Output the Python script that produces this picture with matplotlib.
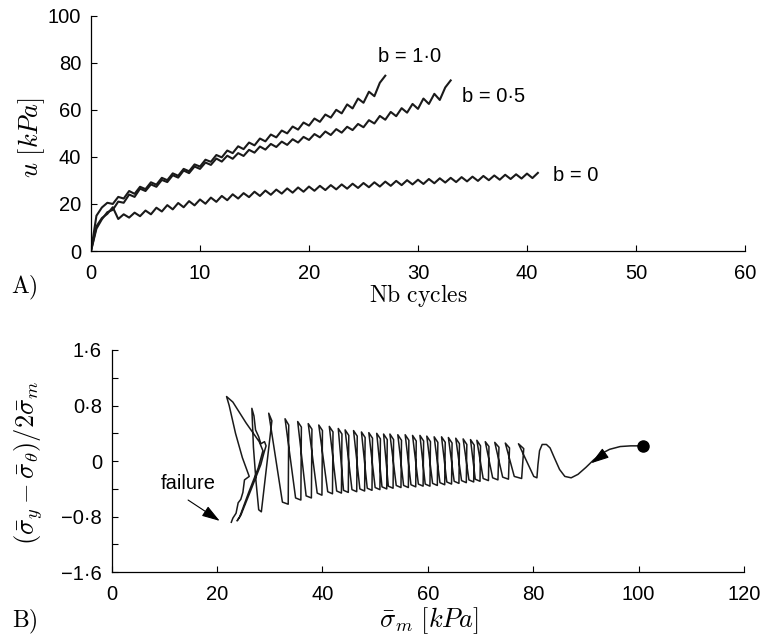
import matplotlib as mpl

mpl.use("Agg")

import matplotlib.pyplot as plt
import numpy as np

IMAGE_DPI = 100.0

# ---- panel A: pore pressure u [kPa] read at every half cycle ----
u_b0 = [
    0.0, 10.5, 14.0, 15.8, 18.6, 13.6, 15.6, 14.2, 16.3, 14.8,
    17.2, 15.6, 18.4, 16.8, 19.5, 17.7, 20.4, 18.6, 21.2, 19.4,
    21.9, 20.1, 22.7, 20.9, 23.4, 21.6, 24.1, 22.3, 24.6, 22.9,
    25.2, 23.4, 25.7, 23.9, 26.1, 24.4, 26.6, 24.8, 27.0, 25.2,
    27.4, 25.6, 27.7, 25.9, 28.0, 26.2, 28.3, 26.5, 28.6, 26.8,
    28.9, 27.1, 29.2, 27.4, 29.5, 27.7, 29.8, 28.0, 30.1, 28.3,
    30.3, 28.5, 30.6, 28.8, 30.9, 29.1, 31.1, 29.3, 31.4, 29.6,
    31.6, 29.8, 31.9, 30.1, 32.1, 30.3, 32.4, 30.6, 32.6, 30.8,
    32.9, 31.0, 33.2,
]
u_b05 = [
    0.0, 9.5, 13.5, 16.5, 17.5, 21.0, 20.5, 24.0, 23.0, 26.5,
    25.5, 28.3, 27.3, 30.2, 29.3, 32.2, 31.2, 34.2, 33.1, 35.9,
    34.9, 37.6, 36.6, 39.3, 38.0, 40.5, 39.2, 41.6, 40.4, 43.0,
    41.8, 44.4, 43.1, 45.5, 44.2, 46.5, 45.1, 47.5, 46.1, 48.5,
    47.2, 49.7, 48.3, 50.8, 49.3, 51.8, 50.3, 52.8, 51.4, 54.0,
    52.6, 55.6, 54.2, 57.4, 55.8, 59.1, 57.3, 60.7, 58.8, 62.5,
    60.4, 64.8, 62.5, 66.8, 64.2, 69.5, 72.5,
]
u_b10 = [
    0.0, 15.0, 18.5, 20.5, 20.0, 23.0, 22.3, 25.5, 24.3, 27.3,
    26.3, 29.2, 28.2, 31.1, 30.1, 33.0, 32.0, 34.9, 33.9, 36.8,
    35.9, 38.8, 37.9, 40.8, 39.8, 42.7, 41.6, 44.5, 43.3, 46.1,
    44.9, 47.8, 46.6, 49.5, 48.3, 51.2, 50.0, 52.9, 51.6, 54.6,
    53.3, 56.3, 54.9, 58.0, 56.7, 60.0, 58.5, 62.3, 60.6, 64.8,
    63.0, 67.7, 65.8, 71.5, 74.5,
]
curve_labels = ["b = 0", "b = 0·5", "b = 1·0"]
label_pos = [(42.4, 32.3), (34.0, 65.7), (26.3, 82.5)]

# ---- panel B: stress path (mean stress, stress ratio) ----
start_sig = [100.8, 98.5, 96.5, 94.5, 93.0, 91.5, 90.0, 88.5, 87.2, 86.0,
             85.0, 84.0, 83.2, 82.5, 81.7, 81.2, 80.9, 80.7, 80.1]
start_q = [0.22, 0.22, 0.21, 0.17, 0.11, 0.02, -0.09, -0.19, -0.24, -0.22,
           -0.12, 0.05, 0.19, 0.24, 0.24, 0.15, -0.05, -0.24, -0.22]

# one loop per cycle: top, shoulder, bottom, and the short hook left of the bottom
sig_top = [77.2, 74.7, 72.7, 70.9, 69.3, 68.1, 66.7, 65.3, 63.9, 62.6,
           61.2, 59.8, 58.5, 57.1, 55.7, 54.3, 52.8, 51.6, 50.3, 48.8,
           47.4, 45.9, 44.3, 43.0, 41.3, 39.3, 37.3, 35.3, 32.9, 29.8]
q_top = [0.25, 0.26, 0.27, 0.28, 0.30, 0.31, 0.32, 0.33, 0.34, 0.35,
         0.35, 0.36, 0.37, 0.37, 0.38, 0.38, 0.39, 0.39, 0.40, 0.41,
         0.42, 0.44, 0.45, 0.47, 0.50, 0.52, 0.54, 0.57, 0.61, 0.69]
sig_shoulder = [78.2, 75.5, 73.5, 71.6, 70.0, 68.8, 67.4, 66.0, 64.6, 63.3,
                61.9, 60.5, 59.2, 57.8, 56.4, 55.0, 53.5, 52.3, 51.0, 49.5,
                48.1, 46.6, 45.0, 43.7, 42.0, 40.0, 38.0, 36.0, 33.6, 30.4]
q_shoulder = [0.18, 0.19, 0.20, 0.21, 0.22, 0.23, 0.24, 0.25, 0.26, 0.27,
              0.27, 0.28, 0.29, 0.29, 0.30, 0.30, 0.31, 0.31, 0.32, 0.33,
              0.34, 0.36, 0.37, 0.39, 0.42, 0.44, 0.46, 0.49, 0.52, 0.58]
sig_bot = [77.8, 75.3, 73.3, 71.5, 69.9, 68.7, 67.3, 65.9, 64.5, 63.2,
           61.8, 60.4, 59.1, 57.7, 56.3, 54.9, 53.4, 52.2, 50.9, 49.4,
           48.0, 46.5, 44.9, 43.6, 41.9, 39.9, 37.9, 35.9, 33.5, 28.4]
sig_hook = [76.4, 74.2, 72.3, 70.5, 69.0, 67.8, 66.4, 65.0, 63.6, 62.3,
            60.9, 59.5, 58.2, 56.8, 55.4, 54.0, 52.5, 51.3, 50.0, 48.5,
            47.1, 45.6, 44.0, 42.7, 41.0, 39.0, 36.9, 34.9, 32.4, 27.9]
q_bot = [-0.25, -0.26, -0.27, -0.28, -0.29, -0.30, -0.31, -0.32, -0.33, -0.34,
         -0.35, -0.36, -0.36, -0.37, -0.38, -0.38, -0.39, -0.40, -0.41, -0.42,
         -0.43, -0.44, -0.45, -0.46, -0.47, -0.49, -0.53, -0.56, -0.62, -0.73]

fail_sig = [27.4, 26.9, 26.6, 27.0, 27.3, 27.9, 28.3, 29.0, 29.3, 28.9,
            28.3, 26.5, 24.5, 23.8, 24.3, 26.0, 27.8, 28.7, 28.0, 25.5,
            23.0, 21.8, 22.3, 23.5, 24.8, 26.1, 25.2, 24.9, 24.5, 24.0,
            23.6, 23.0, 22.7]
fail_q = [-0.30, 0.20, 0.76, 0.65, 0.45, 0.35, 0.25, 0.28, 0.22, 0.12,
          -0.05, -0.40, -0.78, -0.86, -0.80, -0.45, -0.10, 0.15, 0.28, 0.55,
          0.85, 0.93, 0.80, 0.40, 0.05, -0.22, -0.27, -0.45, -0.55, -0.60,
          -0.75, -0.82, -0.88]

ratio_ticks = [-1.6, -1.2, -0.8, -0.4, 0.0, 0.4, 0.8, 1.2, 1.6]
ratio_labels = ["\u22121·6", "", "\u22120·8", "", "0", "", "0·8", "", "1·6"]

LINE = "#1a1a1a"
TICK_FONT = "Liberation Sans"
ARROW = "-|>,head_length=1.1,head_width=0.35"

plt.rcParams["mathtext.fontset"] = "cm"
plt.rcParams["font.family"] = [TICK_FONT, "DejaVu Sans"]


def style_axes(ax):
    ax.spines["right"].set_visible(False)
    ax.spines["top"].set_visible(False)
    for side in ("left", "bottom"):
        ax.spines[side].set_linewidth(0.9)
    ax.tick_params(direction="in", length=4, width=0.8, labelsize=14.5, pad=7)
    ax.tick_params(axis="x", pad=9)


fig = plt.figure(figsize=(764 / IMAGE_DPI, 641 / IMAGE_DPI), dpi=IMAGE_DPI)

# panel A
ax1 = fig.add_axes([0.1191, 0.6084, 0.856, 0.3671])
for u in (u_b0, u_b05, u_b10):
    n = np.arange(len(u)) * 0.5
    ax1.plot(n, u, color=LINE, linewidth=1.5)
for text, (x, y) in zip(curve_labels, label_pos):
    ax1.text(x, y, text, fontsize=14.5, va="center", ha="left")
ax1.set_xlim(0, 60)
ax1.set_ylim(0, 100)
ax1.set_xticks(range(0, 61, 10))
ax1.set_yticks(range(0, 101, 20))
style_axes(ax1)

# panel B
ax2 = fig.add_axes([0.1462, 0.1072, 0.8276, 0.3468])
path_sig = list(start_sig)
path_q = list(start_q)
for st, qt, ss, qs, sb, sh, qb in zip(sig_top, q_top, sig_shoulder, q_shoulder,
                                      sig_bot, sig_hook, q_bot):
    path_sig += [st, ss, sb, sh]
    path_q += [qt, qs, qb, qb + 0.03]
path_sig += fail_sig
path_q += fail_q
ax2.plot(path_sig, path_q, color=LINE, linewidth=1.1)
ax2.plot(start_sig[0], start_q[0], "o", color="black", markersize=8)
ax2.annotate("", xy=(91.0, -0.03), xytext=(93.6, 0.11),
             arrowprops=dict(arrowstyle=ARROW, color="black", linewidth=0.8,
                             shrinkA=0, shrinkB=0))
ax2.text(14.6, -0.32, "failure", fontsize=14.5, ha="center", va="center")
ax2.annotate("", xy=(20.5, -0.86), xytext=(14.5, -0.56),
             arrowprops=dict(arrowstyle=ARROW, color="black", linewidth=0.8,
                             shrinkA=0, shrinkB=0))
ax2.set_xlim(0, 120)
ax2.set_ylim(-1.6, 1.6)
ax2.set_xticks(range(0, 121, 20))
ax2.set_yticks(ratio_ticks)
ax2.set_yticklabels(ratio_labels)
style_axes(ax2)

# axis titles in LaTeX style
fig.text(0.547, 0.539, r"$\mathrm{Nb\ cycles}$", fontsize=17, ha="center", va="center")
fig.text(0.042, 0.785, r"$u\ [kPa]$", fontsize=19, ha="center", va="center", rotation=90)
fig.text(0.032, 0.551, r"$\mathrm{A)}$", fontsize=17, ha="center", va="center")
fig.text(0.561, 0.032, r"$\bar{\sigma}_m\ [kPa]$", fontsize=19, ha="center", va="center")
fig.text(0.037, 0.278, r"$(\bar{\sigma}_y-\bar{\sigma}_\theta)/2\bar{\sigma}_m$",
         fontsize=19, ha="center", va="center", rotation=90)
fig.text(0.033, 0.030, r"$\mathrm{B)}$", fontsize=17, ha="center", va="center")

fig.savefig("out.png", dpi=IMAGE_DPI)
plt.close(fig)
